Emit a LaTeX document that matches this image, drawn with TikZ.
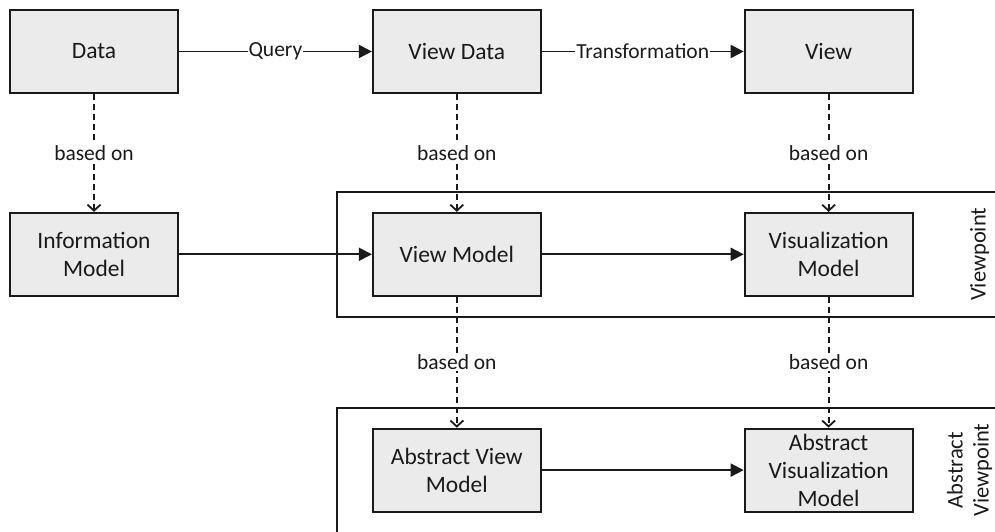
\documentclass[tikz,border=0pt]{standalone}
\usepackage{fontspec}
\setmainfont{Carlito}
\usepackage{xcolor}
\definecolor{boxbg}{HTML}{EBEBEB}
\definecolor{inkdark}{HTML}{1A1A1A}
\usetikzlibrary{arrows.meta, positioning, calc}

\begin{document}
\begin{tikzpicture}[
        x=1pt, y=1pt,
        model_node/.style={
            rectangle,
            draw=inkdark,
            line width=1.8pt,
            fill=boxbg,
            text=inkdark,
            minimum width=168pt,
            minimum height=83pt,
            inner sep=2pt,
            align=center,
            font=\fontsize{23.5}{28}\selectfont
        },
        flow/.style={
            -{Triangle[length=13pt, width=13pt]},
            draw=inkdark,
            line width=1.8pt
        },
        based/.style={
            -{Straight Barb[length=6pt, width=13pt]},
            draw=inkdark,
            line width=1.8pt,
            dash pattern=on 6pt off 4pt
        },
        edge_label/.style={
            fill=white,
            text=inkdark,
            inner sep=1pt,
            font=\fontsize{21.5}{25}\selectfont
        },
        frame_box/.style={
            draw=inkdark,
            line width=1.8pt
        }
    ]

    \useasboundingbox (0,0) rectangle (995,531);
    \clip (0,0) rectangle (995,531);

    % Top row
    \node[model_node] (data) at (94,479.5) {Data};
    \node[model_node, right=193pt of data] (viewdata) {View Data};
    \node[model_node, right=202pt of viewdata] (view) {View};

    % Model row
    \node[model_node, below=118pt of data] (infomodel) {Information\\Model};
    \node[model_node, below=118pt of viewdata] (viewmodel) {View Model};
    \node[model_node, below=118pt of view] (vismodel) {Visualization\\Model};

    % Abstract row
    \node[model_node, below=131pt of viewmodel] (absviewmodel) {Abstract View\\Model};
    \node[model_node, below=131pt of vismodel] (absvismodel) {Abstract\\Visualization\\Model};

    % Viewpoint frames
    \draw[frame_box] ($(viewmodel.north west)+(-35,20)$) rectangle ($(vismodel.south east)+(120,-20)$);
    \draw[frame_box] ($(absviewmodel.north west)+(-35,20)$) rectangle ($(absvismodel.south east)+(120,-60)$);
    \node[rotate=90, text=inkdark, font=\fontsize{22.5}{26}\selectfont] (vplabel) at ($(vismodel.center)+(151,0)$) {Viewpoint};
    \node[rotate=90, align=center, text=inkdark, font=\fontsize{22.5}{26}\selectfont] (absvplabel) at ($(absvismodel.center)+(141,0)$) {Abstract\\Viewpoint};

    % Connecting Arrows
    \draw[flow] (data) -- node[edge_label] {Query} (viewdata);
    \draw[flow] (viewdata) -- node[edge_label] {Transformation} (view);
    \draw[flow] (infomodel) -- (viewmodel);
    \draw[flow] (viewmodel) -- (vismodel);
    \draw[flow] (absviewmodel) -- (absvismodel);

    \draw[based] (data) -- node[edge_label] {based on} (infomodel);
    \draw[based] (viewdata) -- node[edge_label] {based on} (viewmodel);
    \draw[based] (view) -- node[edge_label] {based on} (vismodel);
    \draw[based] (viewmodel) -- node[edge_label] {based on} (absviewmodel);
    \draw[based] (vismodel) -- node[edge_label] {based on} (absvismodel);

\end{tikzpicture}
\end{document}
